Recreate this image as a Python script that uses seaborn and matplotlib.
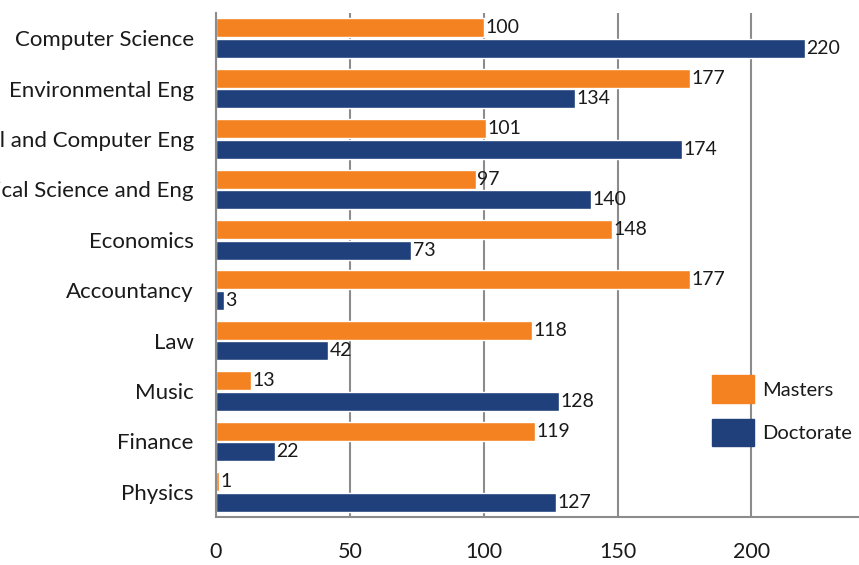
import matplotlib
matplotlib.use("Agg")
import matplotlib.pyplot as plt
import matplotlib.patches as mpatches
import numpy as np
import pandas as pd
import seaborn as sns

departments = [
    "Computer Science",
    "Environmental Eng",
    "Electrical and Computer Eng",
    "Mechanical Science and Eng",
    "Economics",
    "Accountancy",
    "Law",
    "Music",
    "Finance",
    "Physics",
]
masters = [100, 177, 101, 97, 148, 177, 118, 13, 119, 1]
doctorate = [220, 134, 174, 140, 73, 3, 42, 128, 22, 127]
degrees = ["Masters", "Doctorate"]
colors = ["#F58220", "#1F407A"]
x_ticks = [0, 50, 100, 150, 200]

df = pd.DataFrame({
    "Department": departments * 2,
    "Count": masters + doctorate,
    "Degree": [degrees[0]] * len(masters) + [degrees[1]] * len(doctorate),
})

sns.set_style("white")
plt.rcParams["font.family"] = ["Lato", "DejaVu Sans"]
grey = "#8C8C8C"
ink = "#1A1A1A"

fig = plt.figure(figsize=(8.59, 5.65), dpi=100)
ax = fig.add_axes([0.2515, 0.085, 0.748, 0.892])

sns.barplot(
    data=df, x="Count", y="Department", hue="Degree", orient="h",
    palette=colors, width=0.82, gap=0.08, ax=ax, legend=False,
    saturation=1,
)

for cont in ax.containers:
    labels = ax.bar_label(cont, padding=1, fontsize=14, color=ink)
    for t in labels:
        t.set_va("center")

ax.set_xlim(0, 240)
ax.set_ylim(len(departments) - 0.5, -0.5)
ax.set_xticks(x_ticks)
ax.set_xlabel("")
ax.set_ylabel("")
ax.xaxis.grid(True, color=grey, linewidth=1.5)
ax.set_axisbelow(True)

for side in ["top", "right"]:
    ax.spines[side].set_visible(False)
for side in ["left", "bottom"]:
    ax.spines[side].set_color(grey)
    ax.spines[side].set_linewidth(1.5)

ax.tick_params(axis="x", length=7, width=1.5, color=grey, labelsize=15.5,
               labelcolor=ink, pad=11)
ax.tick_params(axis="y", which="major", length=0, labelsize=16,
               labelcolor=ink, pad=16)
ax.set_yticks(np.arange(-0.5, len(departments)), minor=True)
ax.tick_params(axis="y", which="minor", length=7, width=1.5, color=grey)

handles = [mpatches.Patch(color=c, label=d) for c, d in zip(colors, degrees)]
leg = ax.legend(
    handles=handles, loc="lower right", bbox_to_anchor=(0.99, 0.141),
    frameon=False, fontsize=14.5, handlelength=2.1, handleheight=1.7,
    handletextpad=0.4, labelspacing=0.8, borderpad=0, borderaxespad=0,
)
for t in leg.get_texts():
    t.set_color(ink)

fig.savefig("out.png", dpi=100)
